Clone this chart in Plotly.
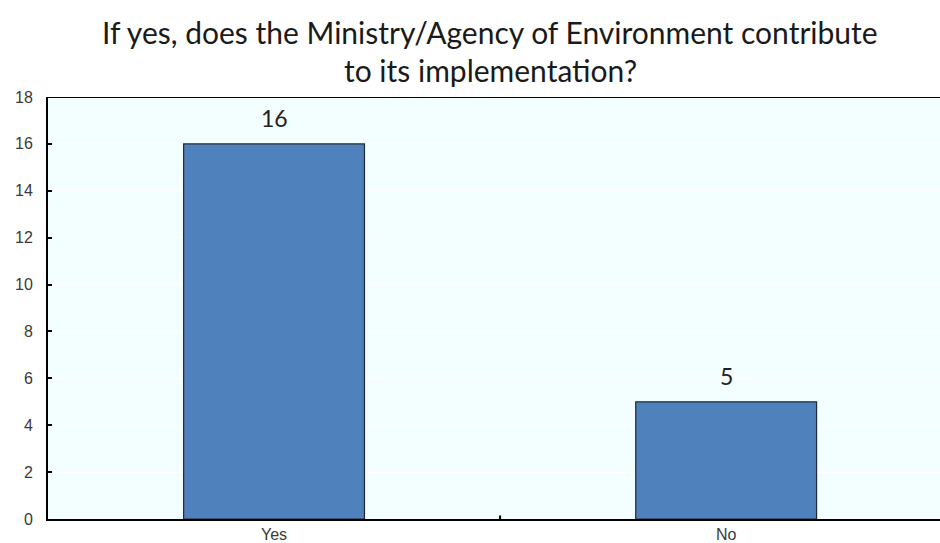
import plotly.graph_objects as go

# Survey responses
categories = ["Yes", "No"]
counts = [16, 5]
y_ticks = [0, 2, 4, 6, 8, 10, 12, 14, 16, 18]

title_lines = [
    "If yes, does the Ministry/Agency of Environment contribute",
    "to its implementation?",
]

label_font = dict(family="Lato, Open Sans, sans-serif", size=23, color="#222222")
tick_font = dict(family="Liberation Sans, Arial, sans-serif", size=16, color="#3a3a3a")

fig = go.Figure(
    go.Bar(
        x=categories,
        y=counts,
        width=0.4,
        marker=dict(color="#4F81BD", line=dict(color="#1F2A36", width=1.2)),
    )
)

fig.update_layout(
    width=940,
    height=543,
    margin=dict(l=48, r=0, t=97, b=24),
    paper_bgcolor="white",
    plot_bgcolor="#F2FEFF",
    showlegend=False,
    xaxis=dict(
        range=[-0.5, 1.473],
        showgrid=False,
        showline=True,
        linecolor="black",
        linewidth=2,
        ticks="",
        tickfont=tick_font,
        fixedrange=True,
    ),
    yaxis=dict(
        range=[0, 18],
        tickvals=y_ticks,
        showgrid=True,
        gridcolor="white",
        gridwidth=1,
        showline=True,
        linecolor="black",
        linewidth=2,
        ticks="inside",
        ticklen=4,
        tickwidth=2,
        tickcolor="black",
        zeroline=False,
        tickfont=tick_font,
        ticklabelstandoff=10,
    ),
)

# Two-line chart title
for i, line in enumerate(title_lines):
    fig.add_annotation(
        text=line, xref="paper", yref="paper", x=(490 - 48) / 892,
        y=1 + (97 - (32 + 38 * i)) / 422, xanchor="center", yanchor="middle",
        showarrow=False,
        font=dict(family="Lato, Open Sans, sans-serif", size=30, color="#1a1a1a"),
    )

# Value labels above each bar
for cat, val in zip(categories, counts):
    fig.add_annotation(
        x=cat, y=val, text=str(val), showarrow=False,
        yanchor="middle", yshift=26, font=label_font,
    )

# Top border of the plotting area and the category divider tick
fig.add_shape(type="line", xref="paper", yref="y", x0=0, x1=1, y0=18, y1=18,
              line=dict(color="black", width=2))
fig.add_shape(type="line", xref="x", yref="y", x0=0.5, x1=0.5, y0=0, y1=0.15,
              line=dict(color="black", width=2))

fig.write_html("out.html")
